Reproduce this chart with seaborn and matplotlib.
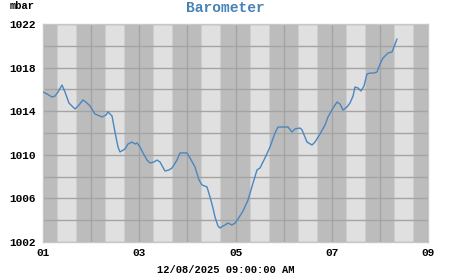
import matplotlib
matplotlib.use("Agg")
import matplotlib.pyplot as plt
import seaborn as sns
import pandas as pd
import numpy as np

day = [1.000,1.083,1.187,1.249,1.312,1.395,1.457,1.540,1.665,1.748,1.831,1.914,1.977,2.081,2.226,2.309,2.351,2.434,
       2.496,2.558,2.600,2.704,2.766,2.849,2.912,2.953,3.016,3.078,3.161,3.223,3.306,3.369,3.431,3.535,3.618,3.681,
       3.784,3.847,3.930,3.992,4.055,4.158,4.242,4.304,4.408,4.470,4.532,4.574,4.636,4.678,4.740,4.782,4.844,4.927,
       4.990,5.052,5.156,5.260,5.364,5.447,5.509,5.613,5.717,5.821,5.883,5.987,6.091,6.174,6.236,6.340,6.382,6.486,
       6.590,6.652,6.756,6.860,6.922,7.026,7.109,7.171,7.234,7.317,7.379,7.442,7.483,7.545,7.608,7.670,7.732,7.795,
       7.878,7.940,8.003,8.065,8.169,8.252,8.294,8.356]
pressure = [1015.76,1015.58,1015.30,1015.39,1015.76,1016.40,1015.76,1014.75,1014.20,1014.57,1015.03,1014.75,1014.48,
            1013.74,1013.47,1013.65,1013.93,1013.56,1012.09,1010.72,1010.26,1010.53,1010.99,1011.17,1010.99,1011.08,
            1010.72,1010.17,1009.52,1009.25,1009.34,1009.52,1009.34,1008.51,1008.61,1008.79,1009.52,1010.17,1010.17,
            1010.17,1009.71,1008.88,1007.69,1007.23,1007.05,1006.13,1005.12,1004.29,1003.47,1003.28,1003.47,1003.56,
            1003.74,1003.56,1003.74,1004.11,1004.84,1005.85,1007.41,1008.61,1008.79,1009.71,1010.72,1012.00,1012.55,
            1012.55,1012.55,1012.09,1012.37,1012.46,1012.28,1011.17,1010.90,1011.17,1011.91,1012.73,1013.47,1014.29,
            1014.84,1014.66,1014.11,1014.39,1014.75,1015.39,1016.22,1016.13,1015.85,1016.31,1017.41,1017.50,1017.50,
            1017.60,1018.33,1018.88,1019.34,1019.43,1019.89,1020.62]

x_tick_days = [1, 3, 5, 7, 9]
x_tick_labels = ["01", "03", "05", "07", "09"]
y_ticks = [1002, 1006, 1010, 1014, 1018, 1022]
y_tick_labels = ["1002", "1006", "1010", "1014", "1018", "1022"]
title = "Barometer"
unit = "mbar"
xlabel = "12/08/2025 09:00:00 AM"

df = pd.DataFrame({"day": day, "pressure": pressure})

sns.set_theme(style="white")
plt.rcParams['font.family'] = ['Liberation Mono', 'DejaVu Sans']

fig = plt.figure(figsize=(4.51, 2.75), dpi=100)
ax = fig.add_axes([43/451, 1-242/275, (428-43)/451, (242-24)/275])
ax.set_facecolor("#bcbcbc")

# daylight bands
for d in range(1, 9):
    ax.axvspan(d + 7.0/24, d + 17.0/24, color="#cfcfcf", lw=0, zorder=0)
    ax.axvspan(d + 7.5/24, d + 16.5/24, color="#e0e0e0", lw=0, zorder=0)

sns.lineplot(data=df, x="day", y="pressure", ax=ax, color="#4a86c0", linewidth=1.0, zorder=3)

ax.set_xlim(1, 9)
ax.set_ylim(1002, 1022)
ax.set_xticks(x_tick_days)
ax.set_xticklabels(x_tick_labels)
ax.set_xticks(np.arange(1, 10), minor=True)
ax.set_yticks(y_ticks)
ax.set_yticklabels(y_tick_labels)
ax.set_yticks(np.arange(1002, 1023, 2), minor=True)
ax.grid(True, which="both", color="#a4a4a4", linewidth=1.0, zorder=1)
for ln in ax.get_xgridlines() + ax.get_ygridlines():
    ln.set_zorder(1)
ax.tick_params(axis="x", which="both", length=0, pad=4, labelsize=8, labelcolor="black")
ax.tick_params(axis="y", which="both", length=0, pad=5, labelsize=8, labelcolor="black")
for lab in ax.get_xticklabels() + ax.get_yticklabels():
    lab.set_fontweight("bold")
ax.set_xlabel("")
ax.set_ylabel("")
for s in ax.spines.values():
    s.set_color("#c8c8c8")
    s.set_linewidth(1.0)

fig.text(0.5, 1-8/275, title, ha="center", va="center", color="#4682b4", fontsize=10.5, fontweight="bold")
fig.text(10/451, 1-6/275, unit, ha="left", va="center", color="black", fontsize=7.5, fontweight="bold")
fig.text(0.5, 1-270/275, xlabel, ha="center", va="center", color="black", fontsize=7.5, fontweight="bold")

fig.savefig("out.png", dpi=100)
